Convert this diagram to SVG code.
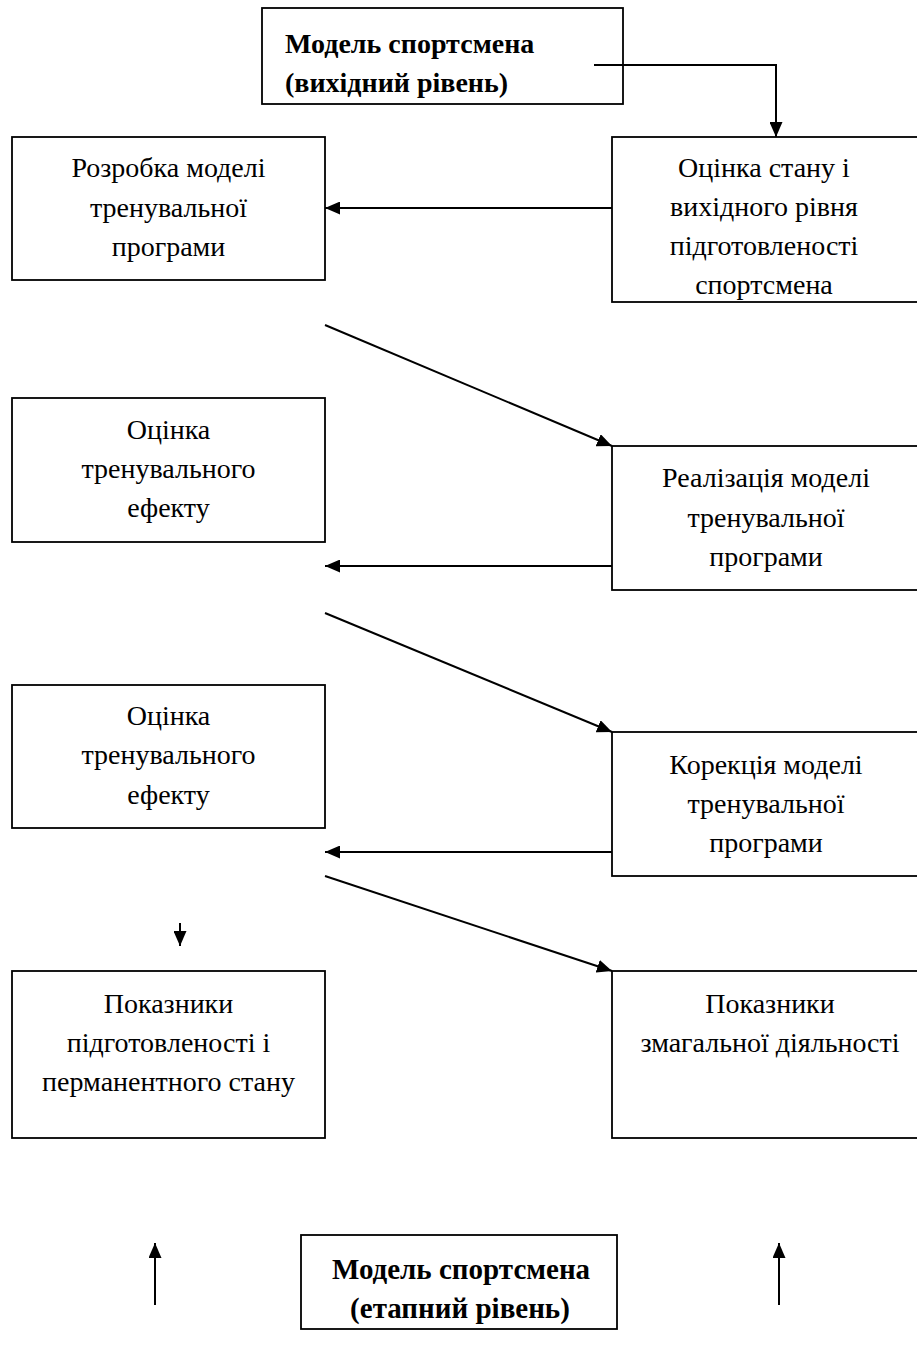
<svg xmlns="http://www.w3.org/2000/svg" width="917" height="1351" viewBox="0 0 917 1351">
<style>
rect{fill:#fff;stroke:#000;stroke-width:1.8}
text{font-family:"Liberation Serif","Times New Roman",serif;font-size:28px;fill:#000}
.c{text-anchor:middle}
.b{font-weight:bold}
.bb{font-size:29px}
.cn line,.cn polyline{stroke:#000;stroke-width:2;fill:none}
</style>
<defs>
<marker id="ah" viewBox="0 0 15 13" refX="15" refY="6.5" markerWidth="15" markerHeight="13" markerUnits="userSpaceOnUse" orient="auto">
<path d="M0,0 L15,6.5 L0,13 z" fill="#000"/>
</marker>
</defs>
<g id="n_top"><rect x="262" y="8" width="361" height="96"/>
<text class="b" x="285" y="53">Модель спортсмена</text>
<text class="b" x="285" y="92">(вихідний рівень)</text></g>
<g id="n_l1"><rect x="12" y="137" width="313" height="143"/>
<text class="c" x="168.5" y="177">Розробка моделі</text>
<text class="c" x="168.5" y="217">тренувальної</text>
<text class="c" x="168.5" y="256">програми</text></g>
<g id="n_r1"><rect x="612" y="137" width="310" height="165"/>
<text class="c" x="764" y="177">Оцінка стану і</text>
<text class="c" x="764" y="216">вихідного рівня</text>
<text class="c" x="764" y="255">підготовленості</text>
<text class="c" x="764" y="294">спортсмена</text></g>
<g id="n_l2"><rect x="12" y="398" width="313" height="144"/>
<text class="c" x="168.5" y="439">Оцінка</text>
<text class="c" x="168.5" y="478">тренувального</text>
<text class="c" x="168.5" y="517">ефекту</text></g>
<g id="n_r2"><rect x="612" y="446" width="310" height="144"/>
<text class="c" x="766" y="487">Реалізація моделі</text>
<text class="c" x="766" y="527">тренувальної</text>
<text class="c" x="766" y="566">програми</text></g>
<g id="n_l3"><rect x="12" y="685" width="313" height="143"/>
<text class="c" x="168.5" y="725">Оцінка</text>
<text class="c" x="168.5" y="764">тренувального</text>
<text class="c" x="168.5" y="804">ефекту</text></g>
<g id="n_r3"><rect x="612" y="732" width="310" height="144"/>
<text class="c" x="766" y="774">Корекція моделі</text>
<text class="c" x="766" y="813">тренувальної</text>
<text class="c" x="766" y="852">програми</text></g>
<g id="n_l4"><rect x="12" y="971" width="313" height="167"/>
<text class="c" x="168.5" y="1013">Показники</text>
<text class="c" x="168.5" y="1052">підготовленості і</text>
<text class="c" x="168.5" y="1091">перманентного стану</text></g>
<g id="n_r4"><rect x="612" y="971" width="310" height="167"/>
<text class="c" x="770" y="1013">Показники</text>
<text class="c" x="770" y="1052">змагальної діяльності</text></g>
<g id="n_bot"><rect x="301" y="1235" width="316" height="94"/>
<text class="c b bb" x="461" y="1279">Модель спортсмена</text>
<text class="c b bb" x="460" y="1318">(етапний рівень)</text></g>
<g class="cn" id="connectors">
<polyline points="594,65 776,65 776,137" marker-end="url(#ah)"/>
<line x1="612" y1="208" x2="325" y2="208" marker-end="url(#ah)"/>
<line x1="325" y1="325" x2="612" y2="446" marker-end="url(#ah)"/>
<line x1="612" y1="566" x2="325" y2="566" marker-end="url(#ah)"/>
<line x1="325" y1="613" x2="612" y2="732" marker-end="url(#ah)"/>
<line x1="612" y1="852" x2="325" y2="852" marker-end="url(#ah)"/>
<line x1="325" y1="876" x2="612" y2="971" marker-end="url(#ah)"/>
<line x1="180" y1="923" x2="180" y2="946" marker-end="url(#ah)"/>
<line x1="155" y1="1305" x2="155" y2="1243" marker-end="url(#ah)"/>
<line x1="779" y1="1305" x2="779" y2="1243" marker-end="url(#ah)"/>
</g>
</svg>
